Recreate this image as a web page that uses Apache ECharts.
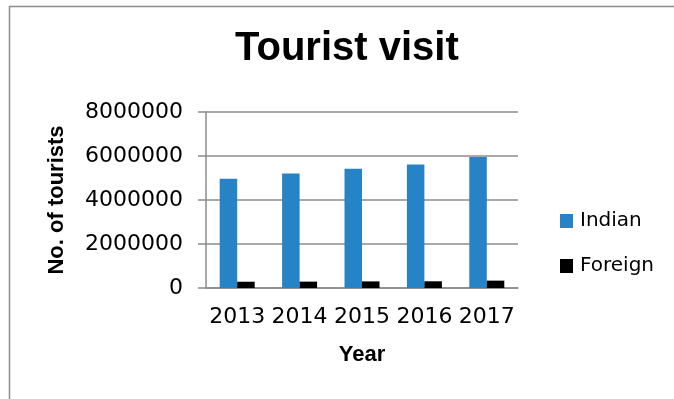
<!DOCTYPE html>
<html>
<head>
<meta charset="utf-8">
<style>
  html, body { margin: 0; padding: 0; background: #fff; }
  #chart { width: 674px; height: 399px; }
</style>
<script src="https://cdn.jsdelivr.net/npm/echarts@6/dist/echarts.min.js"></script>
</head>
<body>
<div id="chart"></div>
<script>
// Yearly tourist visits, split into domestic and foreign arrivals
const years = ['2013', '2014', '2015', '2016', '2017'];
const indianVisitors = [4970000, 5210000, 5420000, 5610000, 5950000];
const foreignVisitors = [285000, 290000, 300000, 305000, 335000];
const yTicks = { min: 0, max: 8000000, interval: 2000000 };

const chart = echarts.init(document.getElementById('chart'), null, { renderer: 'canvas' });

const axisGray = '#8c8c8c';
const tickFont = 'DejaVu Sans';
const boldFont = 'Liberation Sans';

chart.setOption({
  animation: false,
  backgroundColor: '#fff',
  graphic: [{
    type: 'rect',
    shape: { x: 9.5, y: 6.5, width: 700, height: 500 },
    style: { fill: null, stroke: axisGray, lineWidth: 1.5 },
    silent: true,
    z: -1
  }],
  title: {
    text: 'Tourist visit',
    left: 235,
    top: 29,
    padding: 0,
    textStyle: { fontFamily: boldFont, fontWeight: 'bold', fontSize: 40, color: '#000' }
  },
  legend: {
    orient: 'vertical',
    left: 560,
    top: 211,
    itemWidth: 13,
    itemHeight: 14,
    itemGap: 25,
    padding: 0,
    icon: 'rect',
    textStyle: { fontFamily: tickFont, fontSize: 20, color: '#000', padding: [0, 0, 0, 2] },
    data: ['Indian', 'Foreign']
  },
  grid: { left: 206, right: 156, top: 112, bottom: 111 },
  xAxis: {
    type: 'category',
    data: years,
    name: 'Year',
    nameLocation: 'middle',
    nameGap: 56,
    nameTextStyle: { fontFamily: boldFont, fontWeight: 'bold', fontSize: 22, color: '#000' },
    axisLine: { show: true, lineStyle: { color: axisGray, width: 1.5 } },
    axisTick: { show: false },
    axisLabel: { interval: 0, margin: 18, fontFamily: tickFont, fontSize: 22, color: '#000' }
  },
  yAxis: {
    type: 'value',
    min: yTicks.min,
    max: yTicks.max,
    interval: yTicks.interval,
    name: 'No. of tourists',
    nameLocation: 'middle',
    nameGap: 138,
    nameTextStyle: { fontFamily: boldFont, fontWeight: 'bold', fontSize: 22, color: '#000' },
    axisLine: { show: true, lineStyle: { color: axisGray, width: 1.5 } },
    axisTick: { show: true, inside: false, length: 8, lineStyle: { color: axisGray, width: 1.5 } },
    splitLine: { show: true, lineStyle: { color: axisGray, width: 1.5 } },
    axisLabel: {
      margin: 23,
      fontFamily: tickFont,
      fontSize: 22,
      color: '#000',
      formatter: (v) => String(v)
    }
  },
  series: [
    {
      name: 'Indian',
      type: 'bar',
      data: indianVisitors,
      barWidth: 17.5,
      barGap: '0%',
      itemStyle: { color: '#2683c6' }
    },
    {
      name: 'Foreign',
      type: 'bar',
      data: foreignVisitors,
      barWidth: 17.5,
      barGap: '0%',
      itemStyle: { color: '#000000' }
    }
  ]
});
</script>
</body>
</html>
